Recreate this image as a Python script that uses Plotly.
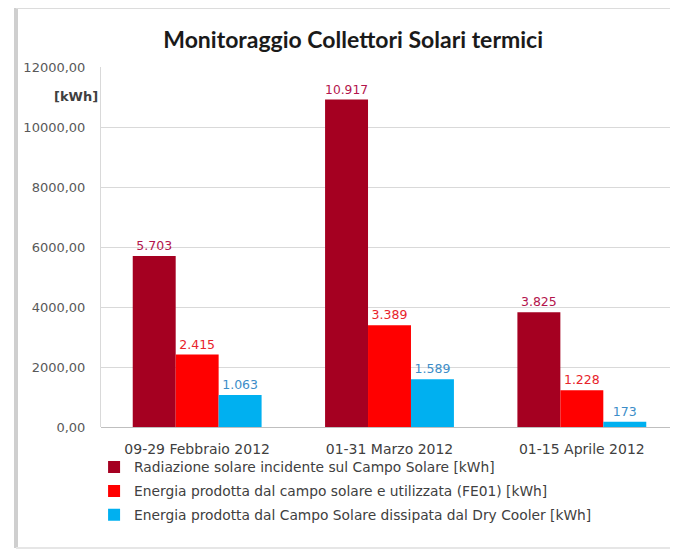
import plotly.graph_objects as go

categories = ["09-29 Febbraio 2012", "01-31 Marzo 2012", "01-15 Aprile 2012"]
series_names = [
    "Radiazione solare incidente sul Campo Solare [kWh]",
    "Energia prodotta dal campo solare e utilizzata (FE01) [kWh]",
    "Energia prodotta dal Campo Solare dissipata dal Dry Cooler [kWh]",
]
radiazione = [5703, 10917, 3825]
energia_utilizzata = [2415, 3389, 1228]
energia_dissipata = [1063, 1589, 173]
tick_vals = [0, 2000, 4000, 6000, 8000, 10000, 12000]
tick_text = ["0,00", "2000,00", "4000,00", "6000,00", "8000,00", "10000,00", "12000,00"]

bar_colors = ["#A50021", "#FF0000", "#00B0F0"]
label_colors = ["#B3144C", "#E8232B", "#3C8DC8"]
FONT = "'DejaVu Sans', sans-serif"
TITLE_FONT = "Lato, sans-serif"

fig = go.Figure()
for i, (name, vals) in enumerate(zip(series_names, [radiazione, energia_utilizzata, energia_dissipata])):
    fig.add_trace(go.Bar(
        x=categories, y=vals, name=name,
        marker=dict(color=bar_colors[i], line=dict(width=0)),
        texttemplate="%{y:,}", textposition="outside",
        textfont=dict(color=label_colors[i], size=12.5, family=FONT),
        cliponaxis=False, legendgroup=str(i),
    ))

fig.update_layout(
    width=670, height=542,
    separators=",.",
    paper_bgcolor="white", plot_bgcolor="white",
    margin=dict(l=93, r=0, t=59, b=123),
    barmode="group", bargap=0.33, bargroupgap=0,
    font=dict(family=FONT, size=12, color="#404040"),
    title=dict(text="<b>Monitoraggio Collettori Solari termici</b>",
               x=0.437, xref="paper", xanchor="center", y=0.941, yanchor="middle",
               font=dict(size=23, color="#1a1a1a", family=TITLE_FONT)),
    showlegend=True,
    legend=dict(x=-0.012, y=-0.068, xanchor="left", yanchor="top",
                orientation="v", tracegroupgap=3,
                font=dict(size=13.8, color="#404040", family=FONT),
                bgcolor="rgba(0,0,0,0)"),
    xaxis=dict(showgrid=False, showline=False, ticks="",
               tickfont=dict(size=14, color="#404040"), range=[-0.5, 2.5],
               ticklabelstandoff=12),
    yaxis=dict(range=[0, 12000], tickvals=tick_vals, ticktext=tick_text,
               showgrid=True, gridcolor="#D9D9D9", gridwidth=1,
               showline=True, linecolor="#D9D9D9", linewidth=1,
               zeroline=True, zerolinecolor="#BFBFBF", zerolinewidth=1,
               tickfont=dict(size=13, color="#595959"), ticks="",
               ticklabelstandoff=12),
)

fig.add_annotation(text="<b>[kWh]</b>", xref="paper", yref="paper",
                   x=-0.002, y=0.917, xanchor="right", yanchor="middle",
                   showarrow=False, font=dict(size=13, color="#404040", family=FONT))

# outer frame (paper coordinates relative to plot area)
fx0, fx1 = (16 - 101) / 577, (677 - 101) / 577
fy0, fy1 = (427 - 548) / 360, (427 - 8) / 360
fig.add_shape(type="line", xref="paper", yref="paper", x0=fx0, x1=fx0, y0=fy0, y1=fy1,
              line=dict(color="#CFCFCF", width=4), layer="below")
fig.add_shape(type="line", xref="paper", yref="paper", x0=fx0, x1=fx1, y0=fy1, y1=fy1,
              line=dict(color="#DCDCDC", width=2), layer="below")
fig.add_shape(type="line", xref="paper", yref="paper", x0=fx0, x1=fx1, y0=fy0, y1=fy0,
              line=dict(color="#E6E6E6", width=2), layer="below")
fig.add_shape(type="line", xref="paper", yref="paper", x0=fx1, x1=fx1, y0=fy0, y1=fy1,
              line=dict(color="#E6E6E6", width=1), layer="below")

fig.write_html("out.html")
